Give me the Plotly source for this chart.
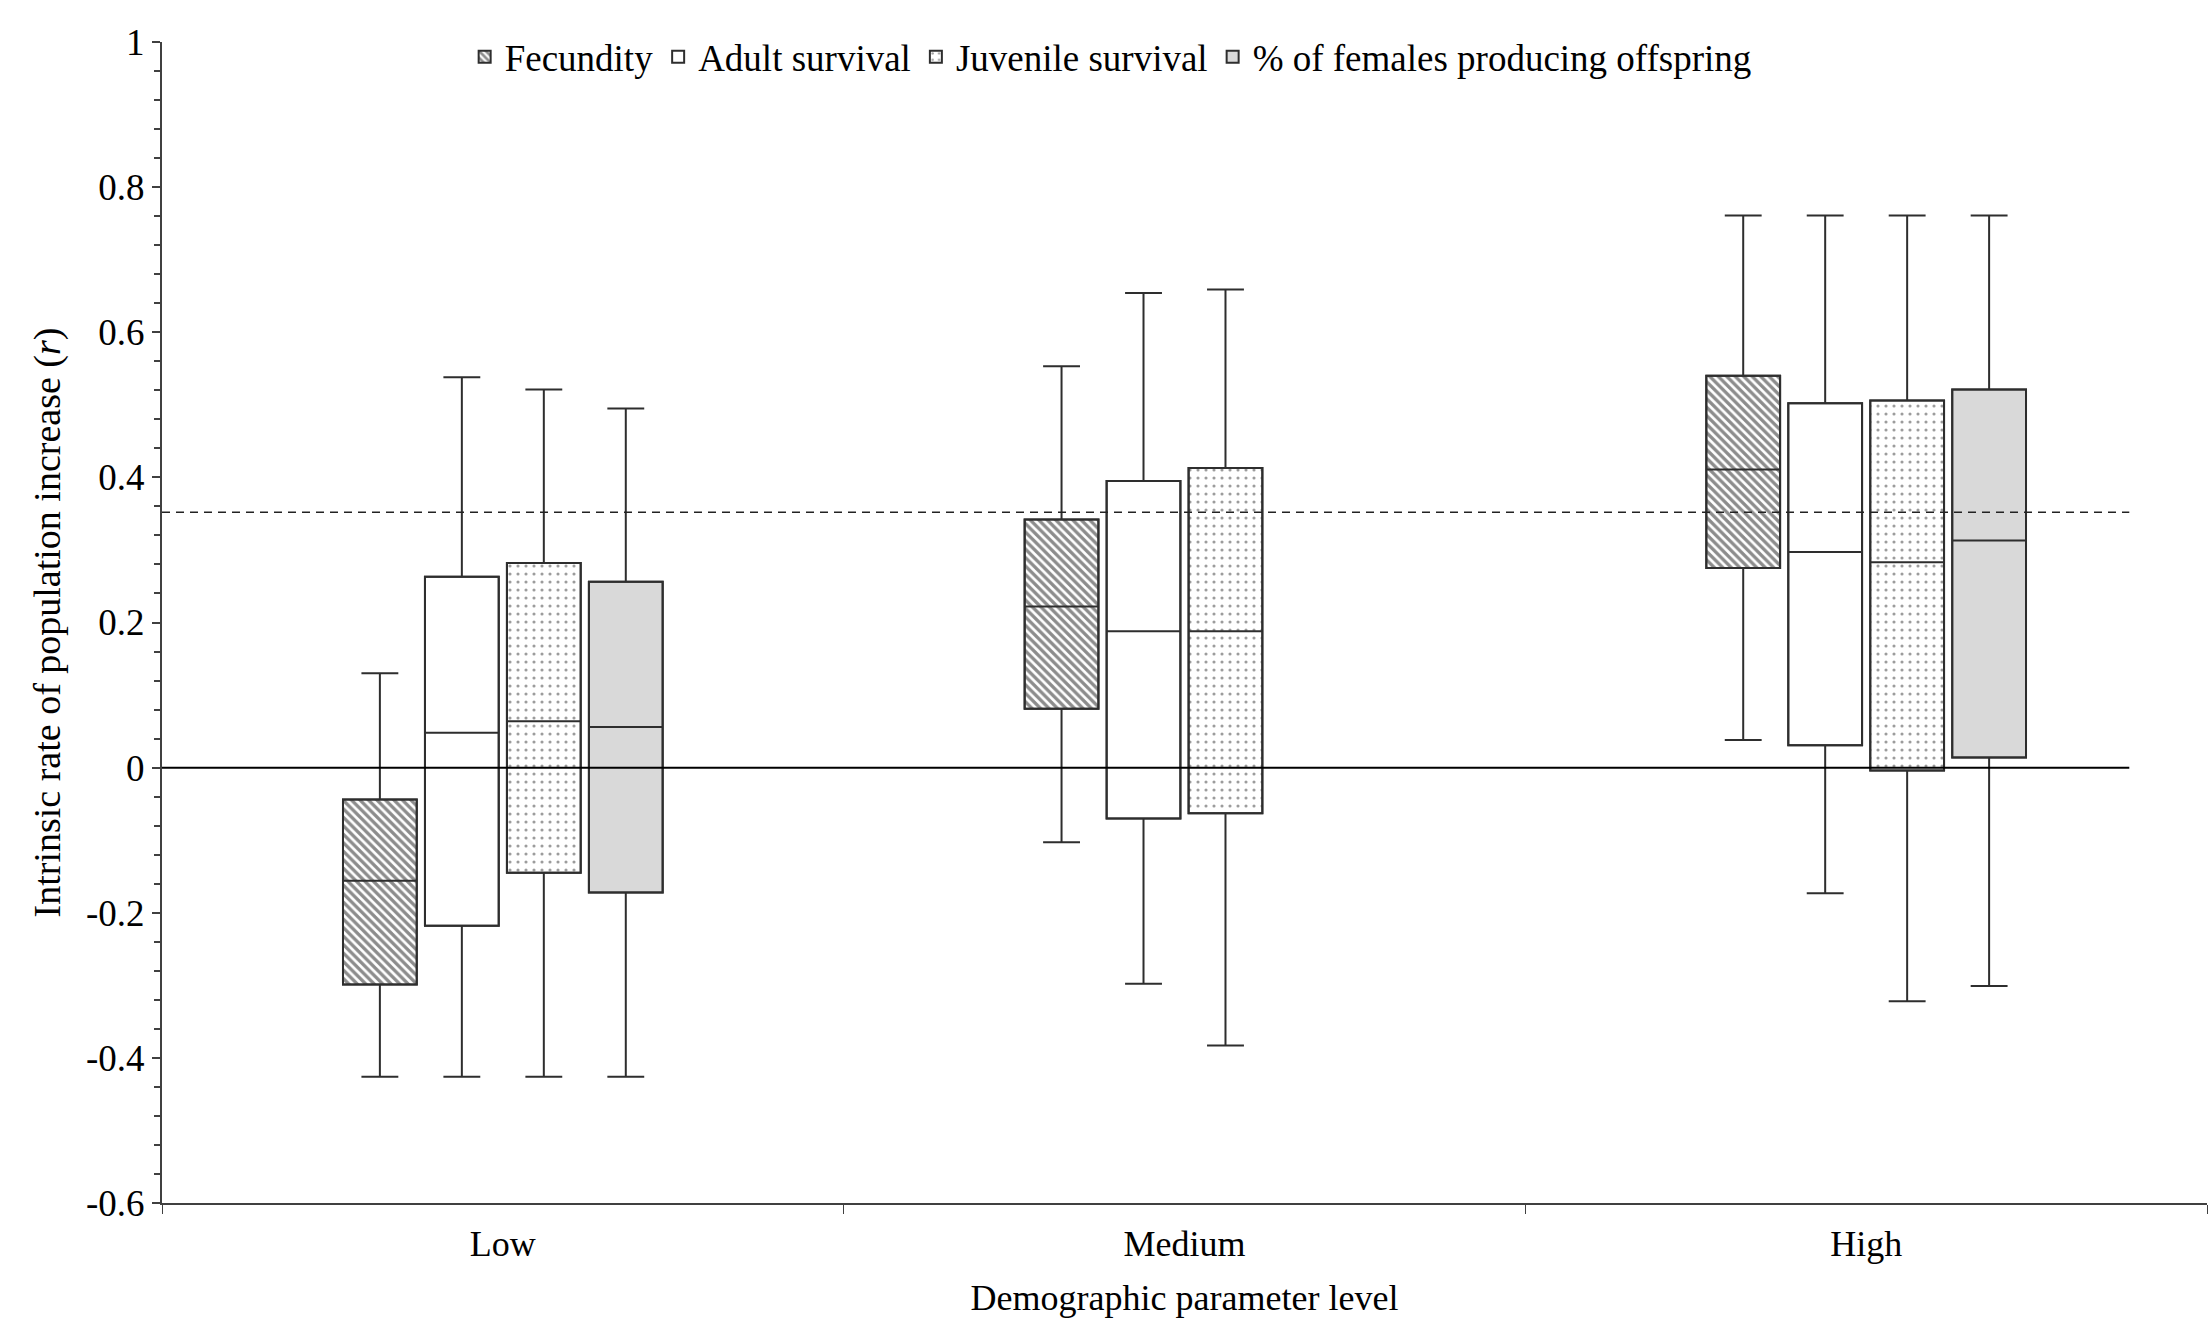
import plotly.graph_objects as go

# Demographic parameter levels on the x axis
levels = ["Low", "Medium", "High"]

# Box summaries of r for each perturbed parameter (lower whisker, Q1, median, Q3, upper whisker)
fec_low = [-0.426, -0.103, 0.038]
fec_q1 = [-0.299, 0.081, 0.275]
fec_med = [-0.156, 0.222, 0.411]
fec_q3 = [-0.044, 0.342, 0.540]
fec_high = [0.130, 0.553, 0.761]

adult_low = [-0.426, -0.298, -0.173]
adult_q1 = [-0.218, -0.070, 0.031]
adult_med = [0.048, 0.188, 0.297]
adult_q3 = [0.263, 0.395, 0.502]
adult_high = [0.538, 0.654, 0.761]

juv_low = [-0.426, -0.383, -0.322]
juv_q1 = [-0.145, -0.063, -0.004]
juv_med = [0.064, 0.188, 0.283]
juv_q3 = [0.282, 0.413, 0.506]
juv_high = [0.521, 0.659, 0.761]

# Proportion of females breeding was only varied at the low and high levels
fem_levels = ["Low", "High"]
fem_low = [-0.426, -0.301]
fem_q1 = [-0.172, 0.014]
fem_med = [0.056, 0.313]
fem_q3 = [0.256, 0.521]
fem_high = [0.495, 0.761]

# Reference lines: no growth, and the observed growth rate
zero_r = 0.0
observed_r = 0.352

y_ticks = [1, 0.8, 0.6, 0.4, 0.2, 0, -0.2, -0.4, -0.6]
y_tick_text = ["1", "0.8", "0.6", "0.4", "0.2", "0", "-0.2", "-0.4", "-0.6"]

FONT = "Liberation Serif, Times New Roman, serif"
LINE = "#2e2e2e"
GAP = 0.519
GROUPGAP = 0.1

series = [
    dict(name="Fecundity", x=levels, lo=fec_low, q1=fec_q1, med=fec_med, q3=fec_q3, hi=fec_high,
         color="white", pattern=dict(shape="\\", fgcolor="#1a1a1a", bgcolor="white", size=6, solidity=0.55)),
    dict(name="Adult survival", x=levels, lo=adult_low, q1=adult_q1, med=adult_med, q3=adult_q3, hi=adult_high,
         color="white", pattern=None),
    dict(name="Juvenile survival", x=levels, lo=juv_low, q1=juv_q1, med=juv_med, q3=juv_q3, hi=juv_high,
         color="white", pattern=dict(shape=".", fgcolor="#3a3a3a", bgcolor="white", size=8, solidity=0.12)),
    dict(name="% of females producing offspring", x=fem_levels, lo=fem_low, q1=fem_q1, med=fem_med,
         q3=fem_q3, hi=fem_high, color="#d9d9d9", pattern=None),
]

fig = go.Figure()

# Filled/patterned interquartile bodies (also supply the legend swatches)
for s in series:
    marker = dict(color=s["color"], line=dict(color=LINE, width=2))
    if s["pattern"]:
        marker["pattern"] = s["pattern"]
    fig.add_trace(go.Bar(
        name=s["name"], x=s["x"],
        y=[b - a for a, b in zip(s["q1"], s["q3"])], base=s["q1"],
        marker=marker, hoverinfo="skip", showlegend=True,
    ))

# Box outlines, medians and capped whiskers
for s in series:
    fig.add_trace(go.Box(
        name=s["name"], x=s["x"], q1=s["q1"], median=s["med"], q3=s["q3"],
        lowerfence=s["lo"], upperfence=s["hi"],
        fillcolor="rgba(0,0,0,0)", line=dict(color=LINE, width=2),
        whiskerwidth=0.5, boxpoints=False, showlegend=False, hoverinfo="skip",
    ))

fig.add_shape(type="line", xref="paper", x0=0, x1=0.962, yref="y", y0=zero_r, y1=zero_r,
              line=dict(color="black", width=2))
fig.add_shape(type="line", xref="paper", x0=0, x1=0.962, yref="y", y0=observed_r, y1=observed_r,
              line=dict(color="#222222", width=1.5, dash="8px,6px"))

fig.update_layout(
    width=2211, height=1327,
    margin=dict(l=162, r=4, t=42, b=124),
    paper_bgcolor="white", plot_bgcolor="white",
    font=dict(family=FONT, size=36, color="black"),
    barmode="group", bargap=GAP, bargroupgap=GROUPGAP,
    boxmode="group", boxgap=GAP, boxgroupgap=GROUPGAP,
    legend=dict(orientation="h", x=0.148, xanchor="left", y=0.987, yanchor="middle",
                font=dict(family=FONT, size=37), bgcolor="rgba(0,0,0,0)",
                itemwidth=30, tracegroupgap=0),
    xaxis=dict(
        type="category", categoryorder="array", categoryarray=levels,
        range=[-0.5, 2.5], showline=True, linecolor="#404040", linewidth=2,
        ticks="outside", tickson="boundaries", ticklen=9, tickwidth=1, tickcolor="#404040",
        ticklabelstandoff=8,
        showgrid=False, zeroline=False,
        tickfont=dict(family=FONT, size=36),
        title=dict(text="Demographic parameter level", font=dict(family=FONT, size=36), standoff=22),
    ),
    yaxis=dict(
        range=[-0.6, 1], showline=True, linecolor="#404040", linewidth=2,
        tickvals=y_ticks, ticktext=y_tick_text, ticks="outside", ticklen=8, tickwidth=2,
        tickcolor="#404040",
        minor=dict(dtick=0.04, tick0=0, ticks="outside", ticklen=6, tickwidth=2, tickcolor="#404040",
                   showgrid=False),
        showgrid=False, zeroline=False,
        tickfont=dict(family=FONT, size=37),
        title=dict(text="Intrinsic rate of population increase (<i>r</i>)",
                   font=dict(family=FONT, size=38), standoff=14),
    ),
)

fig.write_html("out.html")
